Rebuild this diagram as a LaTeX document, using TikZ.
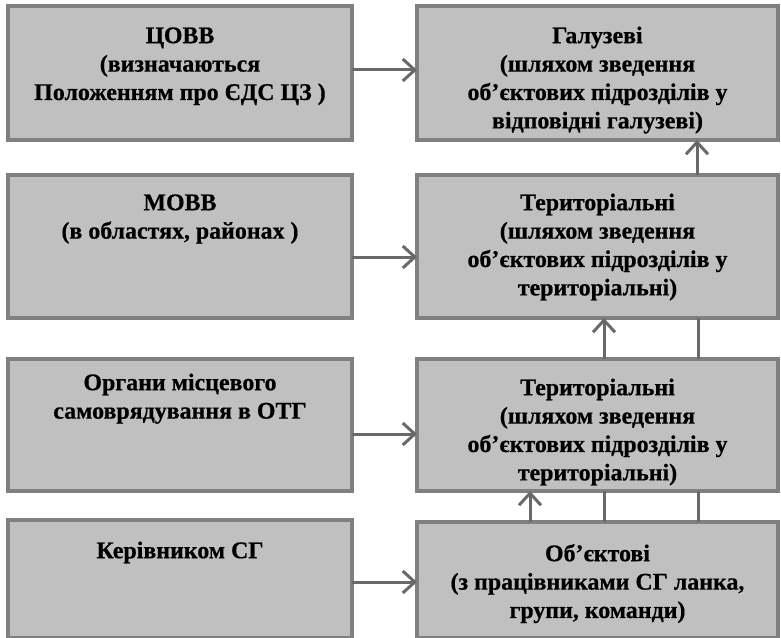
\documentclass[tikz,border=0pt]{standalone}
\usepackage{fontspec}
\setmainfont{Liberation Serif}[BoldFeatures={FakeBold=0.6}]
\usetikzlibrary{arrows.meta}
\definecolor{boxfill}{HTML}{C0C0C0}
\definecolor{boxline}{HTML}{808080}
\definecolor{arrline}{HTML}{696969}
\newcommand{\topstrut}{\rule{0pt}{18bp}}
\begin{document}
\begin{tikzpicture}[x=1bp,y=-1bp,
  box/.style={draw=boxline,fill=boxfill,line width=4bp,inner sep=0pt,outer sep=0pt,rectangle},
  lbox/.style={box,minimum width=344bp},
  rbox/.style={box,minimum width=361bp},
  txt/.style={anchor=north,align=center,inner sep=0pt,font=\fontsize{24}{28.5}\selectfont\bfseries},
  arr/.style={draw=arrline,line width=3bp,-{Straight Barb[length=12bp,width=22bp,line width=3bp]}},
  ln/.style={draw=arrline,line width=3bp}]
\useasboundingbox (0,0) rectangle (781,638);
\begin{scope}
\clip (0,0) rectangle (781,638);
% left column
\node[lbox,minimum height=134bp] (l1) at (180,73) {};
\node[lbox,minimum height=143bp] (l2) at (180,246.5) {};
\node[lbox,minimum height=132bp] (l3) at (180,425) {};
\node[lbox,minimum height=118bp] (l4) at (180,579) {};
% right column
\node[rbox,minimum height=134bp] (r1) at (597.5,73) {};
\node[rbox,minimum height=143bp] (r2) at (597.5,246.5) {};
\node[rbox,minimum height=132bp] (r3) at (597.5,425) {};
\node[rbox,minimum height=116bp] (r4) at (597.5,580) {};
\end{scope}
% texts
\node[txt] (l1t) at ([yshift=-19bp]l1.north) {\topstrut ЦОВВ\\(визначаються\\Положенням про ЄДС ЦЗ )};
\node[txt] (l2t) at ([yshift=-17bp]l2.north) {\topstrut МОВВ\\(в областях, районах )};
\node[txt] (l3t) at ([yshift=-13bp]l3.north) {\topstrut Органи місцевого\\самоврядування в ОТГ};
\node[txt] (l4t) at ([yshift=-20bp]l4.north) {\topstrut Керівником СГ};
\node[txt] (r1t) at ([yshift=-19bp]r1.north) {\topstrut Галузеві\\(шляхом зведення\\об’єктових підрозділів у\\відповідні галузеві)};
\node[txt] (r2t) at ([yshift=-17bp]r2.north) {\topstrut Територіальні\\(шляхом зведення\\об’єктових підрозділів у\\територіальні)};
\node[txt] (r3t) at ([yshift=-18bp]r3.north) {\topstrut Територіальні\\(шляхом зведення\\об’єктових підрозділів у\\територіальні)};
\node[txt] (r4t) at ([yshift=-21bp]r4.north) {\topstrut Об’єктові\\(з працівниками СГ ланка,\\групи, команди)};
% horizontal arrows
\draw[arr] (l1.east |- 0,70) -- (r1.west |- 0,70);
\draw[arr] (l2.east |- 0,257) -- (r2.west |- 0,257);
\draw[arr] (l3.east |- 0,434) -- (r3.west |- 0,434);
\draw[arr] (l4.east |- 0,582) -- (r4.west |- 0,582);
% vertical connectors
\draw[arr] (r2.north -| 697,0) -- (r1.south -| 697,0);
\draw[arr] (r3.north -| 604,0) -- (r2.south -| 604,0);
\draw[ln] (r3.north -| 698,0) -- (r2.south -| 698,0);
\draw[arr] (r4.north -| 530,0) -- (r3.south -| 530,0);
\draw[ln] (r4.north -| 604,0) -- (r3.south -| 604,0);
\draw[ln] (r4.north -| 698,0) -- (r3.south -| 698,0);
\end{tikzpicture}
\end{document}
